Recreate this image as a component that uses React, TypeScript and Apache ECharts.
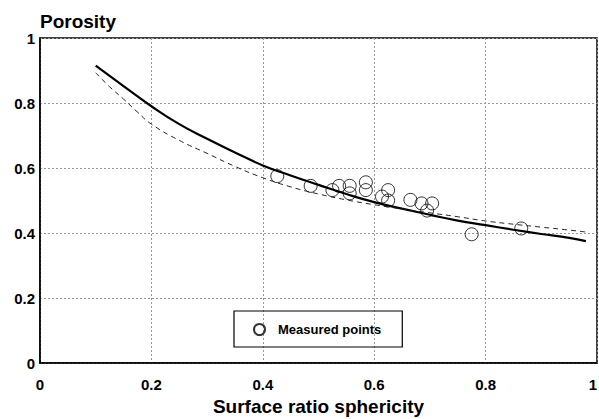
import React, { useEffect, useRef } from 'react';
import * as echarts from 'echarts';

// Solid (model) curve
const solidX = [0.1, 0.15, 0.2, 0.25, 0.3, 0.35, 0.4, 0.45, 0.5, 0.55, 0.6, 0.65, 0.7, 0.75, 0.8, 0.85, 0.9, 0.95, 0.98];
const solidY = [0.915, 0.852, 0.79, 0.735, 0.69, 0.648, 0.608, 0.577, 0.548, 0.52, 0.495, 0.475, 0.456, 0.438, 0.424, 0.41, 0.397, 0.385, 0.375];

// Dashed curve
const dashX = [0.1, 0.125, 0.15, 0.175, 0.2, 0.25, 0.3, 0.35, 0.4, 0.45, 0.5, 0.55, 0.6, 0.65, 0.7, 0.75, 0.8, 0.85, 0.9, 0.95, 0.98];
const dashY = [0.893, 0.85, 0.812, 0.772, 0.735, 0.685, 0.645, 0.605, 0.57, 0.542, 0.52, 0.502, 0.487, 0.474, 0.462, 0.45, 0.437, 0.427, 0.418, 0.409, 0.403];

// Measured points
const measX = [0.426, 0.486, 0.525, 0.537, 0.556, 0.556, 0.585, 0.585, 0.614, 0.625, 0.625, 0.665, 0.685, 0.704, 0.695, 0.775, 0.864];
const measY = [0.575, 0.545, 0.532, 0.545, 0.545, 0.522, 0.556, 0.532, 0.512, 0.532, 0.5, 0.502, 0.491, 0.491, 0.469, 0.396, 0.414];

const FONT = "'Liberation Sans', Arial, Helvetica, sans-serif";

export default function App() {
  const ref = useRef<HTMLDivElement>(null);
  useEffect(() => {
    if (!ref.current) return;
    const chart = echarts.init(ref.current, null, { renderer: 'svg' });
    const zip = (xs: number[], ys: number[]) => xs.map((x, i) => [x, ys[i]]);
    chart.setOption({
      animation: false,
      backgroundColor: '#fff',
      grid: {
        left: 40, right: 2, top: 38, bottom: 56,
        outerBoundsMode: 'none',
        containLabel: false,
        show: true, borderColor: '#000', borderWidth: 1.5,
      },
      legend: {
        data: ['Measured points'],
        left: 234, top: 311,
        borderColor: '#000', borderWidth: 1.2,
        padding: [12, 21, 11, 19],
        itemWidth: 11, itemHeight: 11,
        textStyle: { fontFamily: FONT, fontWeight: 'bold', fontSize: 13, color: '#000', padding: [0, 0, 0, 8] },
      },
      xAxis: {
        type: 'value', min: 0, max: 1, interval: 0.2,
        name: 'Surface ratio sphericity', nameLocation: 'middle', nameGap: 32,
        nameTextStyle: { fontFamily: FONT, fontWeight: 'bold', fontSize: 19, color: '#000' },
        axisLine: { show: true, lineStyle: { color: '#000', width: 1.5 } },
        axisTick: { show: false },
        axisLabel: { fontFamily: FONT, fontWeight: 'bold', fontSize: 15, color: '#000', margin: 14, alignMaxLabel: 'right' },
        splitLine: { show: true, lineStyle: { color: '#999', width: 1, type: [2, 2] } },
      },
      yAxis: {
        type: 'value', min: 0, max: 1, interval: 0.2,
        name: 'Porosity', nameLocation: 'end', nameGap: 6,
        nameTextStyle: { fontFamily: FONT, fontWeight: 'bold', fontSize: 19, color: '#000', align: 'left', verticalAlign: 'bottom' },
        axisLine: { show: true, lineStyle: { color: '#000', width: 1.5 } },
        axisTick: { show: false },
        axisLabel: { fontFamily: FONT, fontWeight: 'bold', fontSize: 15, color: '#000', margin: 5 },
        splitLine: { show: true, lineStyle: { color: '#999', width: 1, type: [2, 2] } },
      },
      series: [
        {
          name: 'Model', type: 'line', smooth: true, showSymbol: false,
          data: zip(solidX, solidY),
          lineStyle: { color: '#000', width: 2.2 },
        },
        {
          name: 'Model 2', type: 'line', smooth: true, showSymbol: false,
          data: zip(dashX, dashY),
          lineStyle: { color: '#222', width: 1, type: [5, 4] },
        },
        {
          name: 'Measured points', type: 'scatter', symbol: 'circle', symbolSize: 13,
          data: zip(measX, measY),
          itemStyle: { color: 'rgba(255,255,255,0)', borderColor: '#000', borderWidth: 1 },
        },
      ],
    });
    return () => chart.dispose();
  }, []);
  return <div ref={ref} style={{ position: 'fixed', left: 0, top: 0, width: 599, height: 419 }} />;
}
